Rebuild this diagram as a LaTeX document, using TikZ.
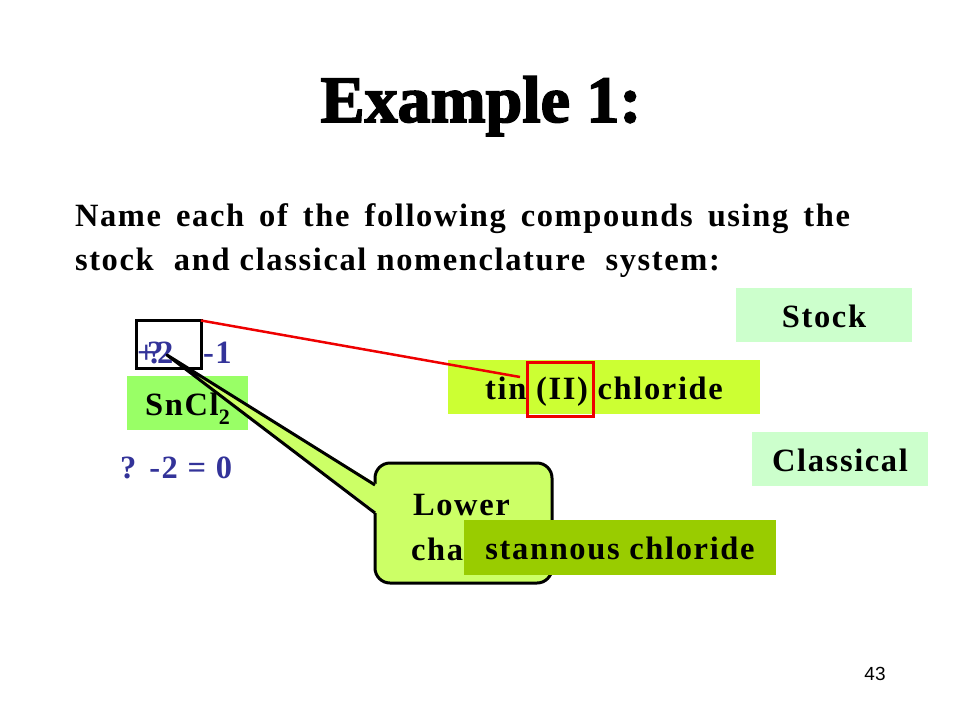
\documentclass[tikz,border=0pt]{standalone}
\usepackage{fontspec}
\setmainfont{Liberation Serif}[LetterSpace=5]
\newfontface\titlefont{Liberation Serif Bold}[FakeBold=2.5]
\newfontfamily\pagefont{Liberation Sans}
\usetikzlibrary{calc}
\definecolor{stockc}{RGB}{204,255,204}
\definecolor{tinc}{RGB}{204,255,51}
\definecolor{sncc}{RGB}{153,255,102}
\definecolor{callc}{RGB}{204,255,102}
\definecolor{stanc}{RGB}{153,204,0}
\definecolor{bluec}{RGB}{51,51,153}
\definecolor{redc}{RGB}{238,0,0}
\begin{document}
\begin{tikzpicture}[x=1pt,y=-1pt,
  every node/.style={inner sep=0pt, outer sep=0pt, font=\bfseries\fontsize{32.5}{44}\selectfont},
  lbl/.style={anchor=base west},
  bluetxt/.style={lbl, text=bluec},
  namebox/.style={rectangle, text height=24pt, text depth=-2pt, align=center},
  frame/.style={rectangle, draw, line width=3pt},
  callout/.style={fill=callc, draw=black, line width=3pt, line join=round}
]
\useasboundingbox (0,0) rectangle (960,720);

% title
\node[anchor=base, font=\titlefont\fontsize{66}{70}\selectfont] (title) at (481,122) {Example 1:};

% instructions
\node[lbl] (l1) at (75,226) {\makebox[775pt][s]{Name each of the following compounds using the}};
\node[lbl] (l2) at (75,270) {\makebox[645pt][s]{stock\ \ and classical nomenclature\ \ system:}};

% right labels
\node[namebox, fill=stockc, minimum width=176pt, minimum height=54pt] (stock) at (824,315) {Stock};
\node[namebox, fill=stockc, minimum width=176pt, minimum height=54pt] (classical) at (840,459) {Classical};

% tin (II) chloride
\node[namebox, fill=tinc, minimum width=312pt, minimum height=54pt] (tin) at (604,387) {tin (II) chloride};
\node[frame, draw=redc, line width=3pt, minimum width=66pt, minimum height=54pt] (rd) at (560,389) {};

% formula
\node[namebox, fill=sncc, minimum width=121pt, minimum height=54pt] (snc) at (187.5,403) {SnCl\raisebox{-9pt}{\fontsize{22}{24}\selectfont 2}};

% oxidation numbers
\node[bluetxt] (plus) at (137,363) {+2};
\node[bluetxt] (q) at (147,363) {?};
\node[bluetxt] (minus) at (203,363) {-1};
\node[bluetxt] (eq) at (120,478) {? -2 = 0};
\node[frame, minimum width=65pt, minimum height=48pt] (bk) at (168.5,344.5) {};

% red connector
\coordinate (redend) at (520,377);
\draw[redc, line width=2.5pt] (bk.north east) -- (redend);

% callout
\coordinate (tip) at (167,355);
\node[callout, rounded corners=15pt, minimum width=177pt, minimum height=120pt] (cb) at (463.5,523) {};
\fill[callc] ($(cb.west)+(3,-38)$) -- (tip) -- ($(cb.west)+(3,-10)$) -- cycle;
\fill[callc] ($(cb.west)+(-1,-38)$) rectangle ($(cb.west)+(3,-10)$);
\draw[line width=3pt, line join=round] ($(cb.west)+(0,-38)$) -- (tip) -- ($(cb.west)+(0,-10)$);
\node[lbl] (lower) at (413,515) {Lower};
\node[lbl] (cha) at (411,560) {cha};

% stannous chloride
\node[namebox, fill=stanc, minimum width=312pt, minimum height=55pt] (stan) at (620,547.5) {stannous chloride};

% page number
\node[anchor=base, font=\pagefont\fontsize{19}{21}\selectfont] (pg) at (875,680) {43};
\end{tikzpicture}
\end{document}
